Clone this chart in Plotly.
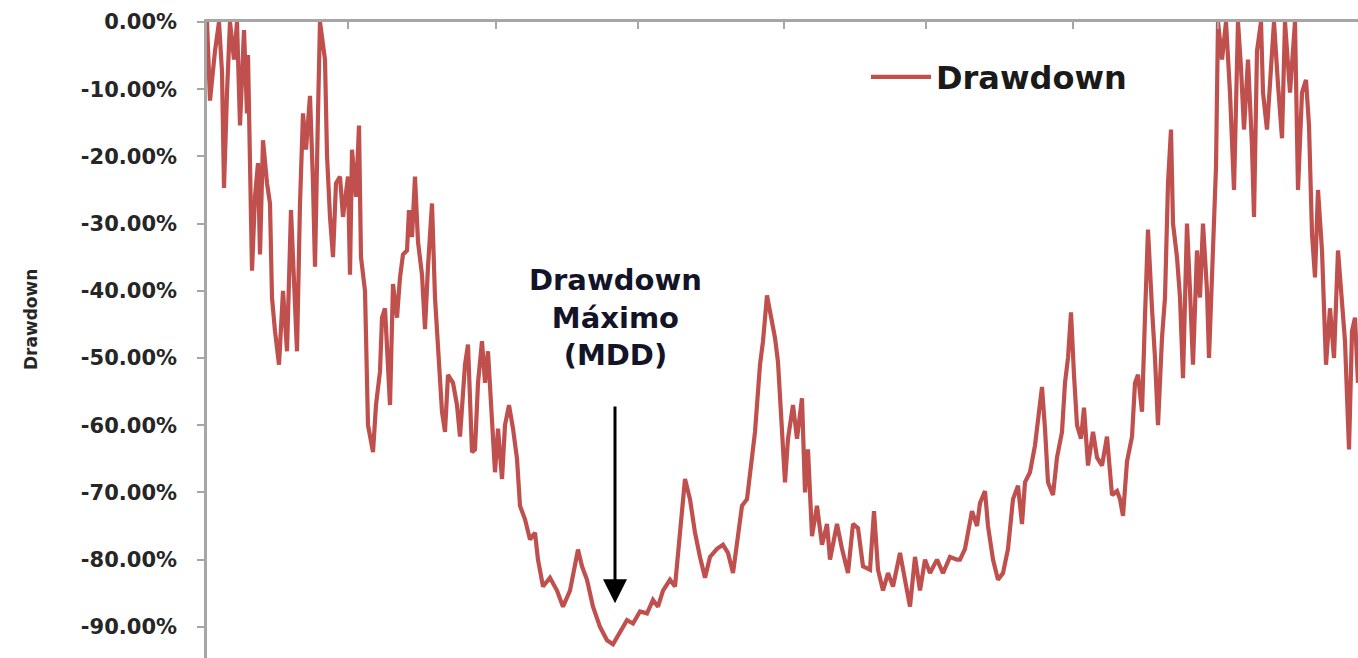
import plotly.graph_objects as go

# Session index (position along the time axis) and drawdown in percent
sesion = [0, 3, 8, 12, 15, 17, 20, 23, 27, 30, 33, 37, 40, 41, 45, 48, 51, 53, 56, 60,
          63, 65, 68, 72, 76, 80, 84, 88, 90, 93, 96, 99, 103, 106, 108, 111, 113, 118, 120, 123,
          126, 129, 133, 136, 141, 143, 145, 149, 152, 154, 158, 161, 166, 169, 173, 175, 178, 183, 186, 190,
          193, 196, 200, 202, 205, 208, 211, 215, 218, 221, 225, 228, 231, 235, 238, 241, 246, 250, 253, 258,
          261, 265, 268, 271, 275, 278, 281, 285, 288, 291, 295, 298, 302, 306, 310, 313, 318, 323, 328, 331,
          336, 343, 350, 356, 363, 371, 375, 380, 386, 393, 400, 406, 413, 420, 426, 433, 440, 446, 451, 456,
          463, 468, 473, 478, 483, 488, 493, 498, 503, 510, 516, 521, 526, 530, 535, 540, 545, 548, 553, 556,
          560, 563, 568, 571, 575, 578, 581, 586, 590, 595, 598, 601, 605, 610, 615, 620, 623, 630, 635, 641,
          646, 651, 656, 663, 667, 671, 676, 681, 686, 693, 698, 703, 708, 713, 718, 723, 730, 736, 743, 750,
          753, 758, 765, 770, 773, 778, 781, 786, 791, 796, 801, 806, 811, 815, 818, 823, 828, 831, 835, 838,
          841, 846, 850, 855, 858, 861, 864, 867, 870, 874, 877, 881, 886, 890, 895, 900, 905, 910, 913, 916,
          920, 925, 928, 931, 935, 938, 941, 945, 948, 951, 955, 958, 961, 964, 966, 970, 973, 976, 980, 983,
          986, 990, 993, 996, 1000, 1002, 1005, 1009, 1011, 1015, 1019, 1023, 1027, 1031, 1034, 1037, 1041, 1045, 1047, 1050,
          1054, 1056, 1060, 1063, 1067, 1071, 1075, 1078, 1083, 1088, 1091, 1095, 1099, 1102, 1105, 1108, 1111, 1115, 1119, 1123,
          1127, 1131, 1135, 1138, 1142, 1145, 1148, 1151]

drawdown = [0, -11.7, -4.3, 0, -7.4, -24.7, -10.5, 0, -5.6, 0, -15.4, -1.2, -13.6, -4.9, -37, -26, -21, -34.6, -17.6, -24,
            -27, -41, -46, -51, -40, -49, -28, -43, -49, -27, -13.6, -19, -11, -24, -36.4, -13.6, 0, -5.6, -19.8, -29,
            -35, -24, -23, -29, -23, -37.6, -19, -26, -15.4, -35, -40, -60, -64, -57, -52, -44, -42.6, -57, -39, -44,
            -38, -34.6, -34, -28, -32, -23, -32.7, -37.6, -45.7, -36.4, -27, -41, -49, -58, -61, -52.5, -53.7, -57, -61.7, -51,
            -48, -64, -63.6, -53.7, -47.5, -53.7, -49, -61, -67, -60.5, -68, -60, -57, -60.5, -65, -72, -74, -77, -76, -80,
            -84, -82.7, -84.6, -87, -84.6, -78.5, -81, -83, -87, -90, -92, -92.6, -90.7, -89, -89.5, -87.7, -88, -86, -87, -84.6,
            -83, -84, -76, -68, -71, -76, -79.6, -82.7, -79.6, -78.4, -77.8, -79, -82, -77, -72, -71, -65, -61, -51, -47.5,
            -40.7, -43, -47, -50.6, -62, -68.5, -62, -57, -62, -56, -70, -63.6, -76.5, -72, -77.8, -74.7, -80, -74.7, -78.4, -82,
            -74.7, -75.3, -81, -81.5, -72.8, -81.5, -84.6, -82, -84, -79, -83, -87, -79.6, -84.6, -80, -82, -80, -82, -79.6, -80,
            -80, -78.4, -72.8, -75, -71.6, -69.8, -75, -80, -83, -82, -78.4, -71, -69, -74.7, -68.5, -67, -63, -59, -54.3, -60.5,
            -68.5, -70.4, -64.8, -61, -53.7, -50, -43.2, -52.5, -60, -62, -57.4, -66, -61, -64.8, -66, -61.7, -70.4, -69.8, -71, -73.5,
            -65.4, -61.7, -53.7, -52.5, -58, -43.8, -30.9, -42.6, -50, -60, -47, -41, -24, -16, -30, -35, -41, -53, -30, -40,
            -51, -34, -41, -30, -40, -50, -38, -21.6, 0, -5.6, 0, -10.5, -25, 0, -6.8, -16, -5.6, -18.5, -29, -4.3,
            0, -10.5, -16, -8, 0, -9.3, -17.3, 0, -10.5, 0, -25, -10.5, -8.6, -15.4, -31.5, -38, -25, -34, -51, -42.6,
            -50, -34, -41, -47.5, -63.6, -46, -44, -53.7]

y_ticks = [0, -10, -20, -30, -40, -50, -60, -70, -80, -90]
y_labels = ["0.00%", "-10.00%", "-20.00%", "-30.00%", "-40.00%",
            "-50.00%", "-60.00%", "-70.00%", "-80.00%", "-90.00%"]
x_ticks = [141, 289, 431, 577, 719, 866, 1011]

RED = "#C0504D"
FONT = "DejaVu Sans"

fig = go.Figure()
fig.add_trace(go.Scatter(
    x=sesion, y=drawdown, mode="lines", name="Drawdown",
    line=dict(color=RED, width=4.2),
))

fig.update_layout(
    width=1358, height=658,
    margin=dict(l=207, r=0, t=22, b=0),
    paper_bgcolor="white", plot_bgcolor="white",
    font=dict(family=FONT, color="#262626"),
    showlegend=True,
    legend=dict(
        x=(866 - 207) / 1151, y=1 - (77 - 22) / 636,
        xanchor="left", yanchor="middle",
        bgcolor="rgba(0,0,0,0)", borderwidth=0,
        font=dict(family=FONT, size=32, color="#1a1a1a", weight="bold"),
        itemwidth=60,
    ),
    xaxis=dict(
        range=[0, 1151], side="top",
        showline=True, linecolor="#A6A6A6", linewidth=2.5,
        ticks="inside", ticklen=7, tickcolor="#A6A6A6", tickwidth=1.5,
        tickvals=x_ticks, showticklabels=False,
        showgrid=False, zeroline=False,
    ),
    yaxis=dict(
        range=[-94.64, 0],
        showline=True, linecolor="#A6A6A6", linewidth=2.5,
        ticks="outside", ticklen=7, tickcolor="#A6A6A6", tickwidth=1.5,
        tickvals=y_ticks, ticktext=y_labels,
        ticklabelstandoff=16,
        tickfont=dict(family=FONT, size=21, color="#262626", weight="bold"),
        showgrid=False, zeroline=False,
    ),
)

# y-axis title (placed like the original, centred on the full Excel plot area)
fig.add_annotation(
    x=(31 - 207) / 1151, y=1 - (320 - 22) / 636, xref="paper", yref="paper",
    text="Drawdown", showarrow=False, textangle=-90,
    font=dict(family=FONT, size=17, color="#262626", weight="bold"),
    xanchor="center", yanchor="middle",
)

fig.add_annotation(
    x=408, y=-44.0, xref="x", yref="y",
    text="Drawdown<br>Máximo<br>(MDD)", showarrow=False,
    font=dict(family=FONT, size=29, color="#141428", weight="bold"),
    align="center",
)
fig.add_annotation(
    x=408, y=-86.5, xref="x", yref="y",
    ax=408, ay=-57.0, axref="x", ayref="y",
    text="", showarrow=True,
    arrowhead=2, arrowsize=1.6, arrowwidth=3, arrowcolor="black",
)

fig.write_html(
    "out.html",
    config={"displayModeBar": False},
    post_script="document.body.style.margin='0';document.body.style.overflow='hidden';",
)
